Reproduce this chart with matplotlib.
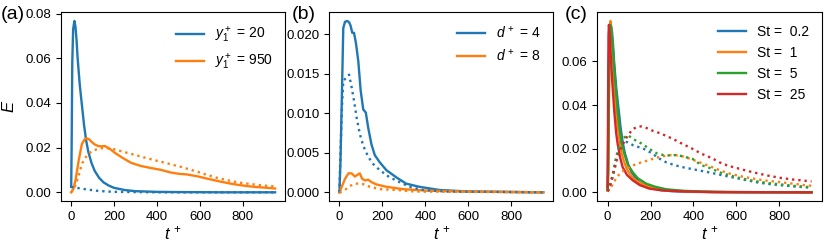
import matplotlib
matplotlib.use('Agg')
import matplotlib.pyplot as plt

plt.rcParams['font.family'] = ['Liberation Sans', 'DejaVu Sans']
plt.rcParams['mathtext.fontset'] = 'custom'
plt.rcParams['mathtext.rm'] = 'Liberation Sans'
plt.rcParams['mathtext.it'] = 'Liberation Sans:italic'
plt.rcParams['font.size'] = 9.5

# (a) y1+ = 20 (blue) and y1+ = 950 (orange); solid and dotted
ta_blue = [0, 2, 5, 9, 15, 20, 25, 30, 40, 50, 60, 70, 80, 95, 110, 130, 150, 175, 200, 250, 300, 400, 500, 700, 950]
Ea_blue = [0.0024, 0.02, 0.058, 0.073, 0.0767, 0.074, 0.068, 0.060, 0.048, 0.039, 0.030, 0.023, 0.018, 0.013,
           0.0095, 0.0065, 0.0045, 0.003, 0.002, 0.001, 0.0005, 0.0002, 0.0001, 0.0, 0.0]
ta_blue_d = [0, 20, 50, 80, 120, 160, 200, 300, 400, 950]
Ea_blue_d = [0.0024, 0.0021, 0.0016, 0.0012, 0.0007, 0.0004, 0.0002, 0.0001, 0.0, 0.0]
ta_orange = [0, 10, 20, 35, 50, 65, 73, 85, 96, 110, 126, 140, 157, 180, 203, 233, 279, 324, 370, 416, 462,
             500, 540, 591, 630, 667, 705, 743, 780, 819, 860, 900, 950]
Ea_orange = [0, 0.0015, 0.0054, 0.0143, 0.0217, 0.024, 0.0242, 0.0236, 0.0225, 0.0214, 0.0207, 0.0206, 0.0207,
             0.0195, 0.0177, 0.0158, 0.0132, 0.0118, 0.0109, 0.0101, 0.0089, 0.0083, 0.008, 0.0071, 0.0062,
             0.0054, 0.0046, 0.0039, 0.0033, 0.0028, 0.0024, 0.0021, 0.0017]
ta_orange_d = [0, 10, 20, 35, 50, 73, 96, 126, 157, 203, 248, 287, 325, 363, 400, 439, 477, 515, 553, 591,
               630, 667, 705, 743, 780, 819, 860, 900, 950]
Ea_orange_d = [0, 0.0012, 0.0031, 0.0076, 0.0128, 0.0165, 0.0184, 0.0195, 0.0199, 0.0192, 0.018, 0.017, 0.016,
               0.015, 0.0141, 0.0132, 0.0122, 0.0113, 0.0102, 0.0091, 0.0079, 0.0068, 0.0059, 0.0051, 0.0044,
               0.0039, 0.0034, 0.0030, 0.0026]

# (b) d+ = 4 (blue) and d+ = 8 (orange)
tb_blue = [0, 5, 11, 18, 26, 37, 46, 52, 60, 68, 77, 88, 99, 111, 123, 134, 149, 165, 188, 219, 265, 311, 372,
           465, 600, 950]
Eb_blue = [0, 0.004, 0.0116, 0.0208, 0.0216, 0.0217, 0.0215, 0.0211, 0.0202, 0.0202, 0.0189, 0.0166, 0.0129,
           0.0105, 0.0101, 0.0082, 0.0061, 0.0047, 0.0038, 0.0028, 0.0019, 0.0011, 0.0007, 0.0003, 0.0001, 0.0]
tb_blue_d = [0, 3, 11, 18, 31, 45, 57, 68, 80, 95, 111, 134, 157, 188, 234, 280, 326, 388, 500, 950]
Eb_blue_d = [0, 0.0032, 0.0103, 0.0141, 0.0145, 0.0149, 0.0133, 0.0116, 0.0095, 0.0074, 0.0059, 0.0045, 0.0036,
             0.0028, 0.0019, 0.0013, 0.0007, 0.0003, 0.0001, 0.0]
tb_orange = [0, 11, 26, 42, 57, 72, 83, 95, 106, 121, 134, 149, 172, 219, 296, 418, 600, 950]
Eb_orange = [0, 0.0007, 0.0017, 0.0024, 0.0024, 0.002, 0.0022, 0.0024, 0.0017, 0.0015, 0.0016, 0.0013, 0.001,
             0.0007, 0.0004, 0.0002, 0.0001, 0.0]
tb_orange_d = [0, 10, 26, 49, 72, 95, 118, 141, 188, 265, 350, 950]
Eb_orange_d = [0, 0.0001, 0.0003, 0.0008, 0.0011, 0.0011, 0.001, 0.0007, 0.0004, 0.0003, 0.0001, 0.0]

# (c) Stokes numbers
st_labels = ['St =  0.2', 'St =  1', 'St =  5', 'St =  25']
tc_orange = [0, 3, 6, 9, 13, 18, 25, 32, 39, 47, 55, 65, 75, 90, 110, 130, 160, 200, 250, 300, 400, 500, 950]
Ec_orange = [0.001, 0.01, 0.04, 0.07, 0.0785, 0.074, 0.062, 0.048, 0.037, 0.030, 0.024, 0.018, 0.0145, 0.0105,
             0.0075, 0.0055, 0.0038, 0.0024, 0.0014, 0.0008, 0.0003, 0.0001, 0.0]
tc_green = [0, 3, 6, 9, 13, 18, 25, 35, 47, 55, 65, 78, 95, 117, 140, 179, 220, 272, 350, 450, 600, 950]
Ec_green = [0.001, 0.01, 0.045, 0.07, 0.0767, 0.074, 0.065, 0.051, 0.037, 0.0297, 0.023, 0.0176, 0.0125,
            0.0092, 0.0065, 0.004, 0.0026, 0.0014, 0.0007, 0.0003, 0.0001, 0.0]
tc_red = [0, 2, 4, 6, 10, 15, 22, 31, 40, 47, 58, 70, 90, 117, 150, 194, 250, 350, 500, 950]
Ec_red = [0.001, 0.04, 0.072, 0.0767, 0.072, 0.062, 0.050, 0.037, 0.027, 0.022, 0.016, 0.0115, 0.008, 0.0055,
          0.0033, 0.0017, 0.0009, 0.0004, 0.0001, 0.0]

tc_blue_d = [0, 10, 23, 39, 55, 68, 93, 120, 148, 179, 210, 240, 272, 310, 350, 427, 489, 540, 600, 650, 700,
             750, 800, 870, 950]
Ec_blue_d = [0.0005, 0.003, 0.007, 0.0145, 0.021, 0.0236, 0.0229, 0.0215, 0.0206, 0.0195, 0.0176, 0.0155,
             0.0138, 0.0125, 0.0115, 0.01, 0.0088, 0.0077, 0.0065, 0.0055, 0.0045, 0.0038, 0.0033, 0.0027, 0.0021]
tc_orange_d = [0, 20, 40, 62, 90, 117, 150, 194, 225, 256, 290, 311, 340, 365, 400, 435, 480, 520, 560, 614,
               660, 707, 750, 800, 860, 925, 950]
Ec_orange_d = [0.0003, 0.003, 0.0065, 0.0092, 0.0108, 0.0123, 0.0135, 0.0148, 0.0158, 0.0165, 0.017, 0.0171,
               0.0167, 0.016, 0.0148, 0.0135, 0.0118, 0.0102, 0.0088, 0.0075, 0.0066, 0.0058, 0.0052, 0.0047,
               0.004, 0.0032, 0.003]
tc_green_d = [0, 10, 23, 39, 55, 75, 95, 110, 135, 163, 194, 230, 272, 300, 320, 350, 396, 435, 480, 520, 560,
              614, 660, 707, 750, 800, 860, 925, 950]
Ec_green_d = [0.0005, 0.003, 0.008, 0.016, 0.022, 0.025, 0.0262, 0.025, 0.0235, 0.0221, 0.0199, 0.0178,
              0.0168, 0.017, 0.0171, 0.0165, 0.0153, 0.0125, 0.011, 0.0092, 0.008, 0.0066, 0.0056, 0.0048,
              0.0042, 0.0037, 0.003, 0.0025, 0.0024]
tc_red_d = [0, 8, 20, 31, 47, 65, 93, 117, 140, 156, 180, 210, 240, 272, 310, 350, 390, 435, 489, 520, 560, 614,
            660, 707, 750, 800, 860, 950]
Ec_red_d = [0.0005, 0.0017, 0.006, 0.010, 0.0165, 0.021, 0.0259, 0.029, 0.0300, 0.0302, 0.0295, 0.0282, 0.0272,
            0.0259, 0.0242, 0.0221, 0.0202, 0.0178, 0.0155, 0.0138, 0.0122, 0.0108, 0.0096, 0.0085, 0.0076,
            0.0067, 0.0059, 0.005]

C0, C1, C2, C3 = 'tab:blue', 'tab:orange', 'tab:green', 'tab:red'
lw = 1.7

fig, (ax1, ax2, ax3) = plt.subplots(1, 3, figsize=(8.3, 2.48), dpi=100)
fig.subplots_adjust(left=0.0735, right=0.990, bottom=0.19, top=0.95, wspace=0.196)

ax1.plot(ta_blue, Ea_blue, color=C0, lw=lw, label=r'$y_1^+$ = 20')
ax1.plot(ta_orange, Ea_orange, color=C1, lw=lw, label=r'$y_1^+$ = 950')
ax1.plot(ta_blue_d, Ea_blue_d, color=C0, lw=lw, ls=':')
ax1.plot(ta_orange_d, Ea_orange_d, color=C1, lw=lw, ls=':')
ax1.set_ylabel(r'$E$', fontsize=12, labelpad=6)

ax2.plot(tb_blue, Eb_blue, color=C0, lw=lw, label=r'$d^{\,+}$ = 4')
ax2.plot(tb_orange, Eb_orange, color=C1, lw=lw, label=r'$d^{\,+}$ = 8')
ax2.plot(tb_blue_d, Eb_blue_d, color=C0, lw=lw, ls=':')
ax2.plot(tb_orange_d, Eb_orange_d, color=C1, lw=lw, ls=':')

ax3.plot(ta_blue, Ea_blue, color=C0, lw=lw, label=st_labels[0])
ax3.plot(tc_orange, Ec_orange, color=C1, lw=lw, label=st_labels[1])
ax3.plot(tc_green, Ec_green, color=C2, lw=lw, label=st_labels[2])
ax3.plot(tc_red, Ec_red, color=C3, lw=lw, label=st_labels[3])
ax3.plot(tc_blue_d, Ec_blue_d, color=C0, lw=lw, ls=':')
ax3.plot(tc_orange_d, Ec_orange_d, color=C1, lw=lw, ls=':')
ax3.plot(tc_green_d, Ec_green_d, color=C2, lw=lw, ls=':')
ax3.plot(tc_red_d, Ec_red_d, color=C3, lw=lw, ls=':')
ax3.set_yticks([0, 0.02, 0.04, 0.06])

for ax in (ax1, ax2, ax3):
    ax.set_xticks([0, 200, 400, 600, 800])
    ax.set_xlabel(r'$t^{\,+}$', fontsize=12, labelpad=1)
    ax.legend(frameon=False, fontsize=10, loc='upper right')

fig.text(0.001, 0.94, '(a)', fontsize=14, va='center')
fig.text(0.351, 0.94, '(b)', fontsize=14, va='center')
fig.text(0.681, 0.94, '(c)', fontsize=14, va='center')

plt.savefig('out.png', dpi=100)
